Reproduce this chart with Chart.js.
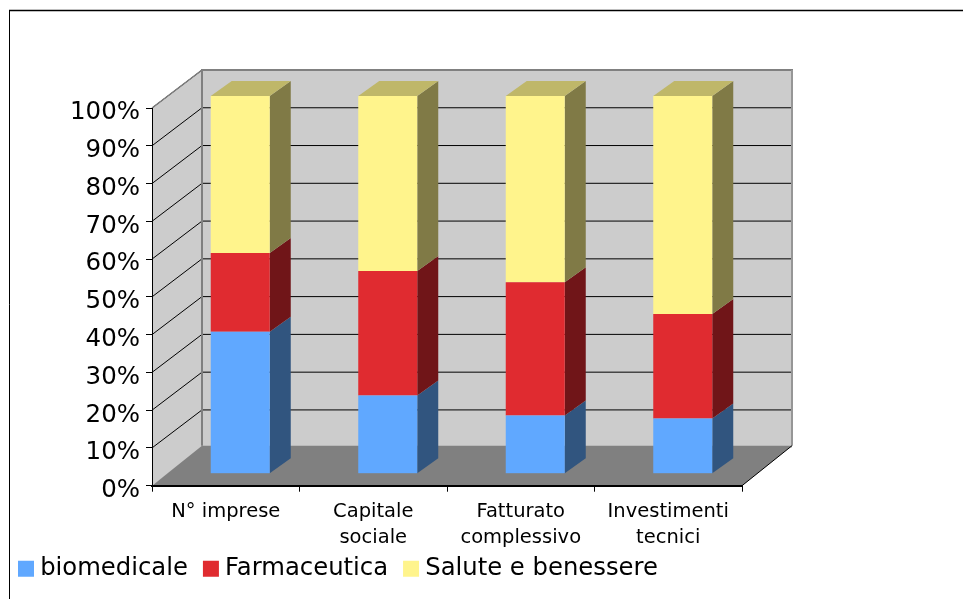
<!DOCTYPE html>
<html>
<head>
<meta charset="utf-8">
<title>Grafico</title>
<script src="https://cdn.jsdelivr.net/npm/chart.js@4"></script>
<style>
    html, body { margin: 0; padding: 0; background: #fff; overflow: hidden; }
    canvas { display: block; }
</style>
</head>
<body>
<canvas id="grafico" width="963" height="599"></canvas>
<script>
// Dati (percentuali)
const categorie = ["N° imprese", ["Capitale", "sociale"], ["Fatturato", "complessivo"], ["Investimenti", "tecnici"]];
const biomedicale = [37.6, 20.7, 15.4, 14.6];
const farmaceutica = [20.8, 33.0, 35.3, 27.7];
const salute = [41.6, 46.3, 49.3, 57.7];

// Effetto 3D: profondita' del box e della barra
const PROF_X = 50, PROF_Y = -38;
const BARRA_DX = 14.5, BARRA_DY = -12;
const LATO_X = 21, LATO_Y = -15;

// Colori facce laterali e superiore
const coloreLato = { biomedicale: "#31557F", Farmaceutica: "#701518", "Salute e benessere": "#807A46" };
const coloreTop = "#BFB769";

function poligono(ctx, punti, colore) {
    ctx.fillStyle = colore;
    ctx.beginPath();
    punti.forEach((p, i) => i ? ctx.lineTo(p[0], p[1]) : ctx.moveTo(p[0], p[1]));
    ctx.closePath();
    ctx.fill();
}

function linea(ctx, x1, y1, x2, y2, colore, spessore) {
    ctx.strokeStyle = colore;
    ctx.lineWidth = spessore;
    ctx.beginPath();
    ctx.moveTo(x1, y1);
    ctx.lineTo(x2, y2);
    ctx.stroke();
}

// Pareti, pavimento, griglia e cornice
const scatola3d = {
    id: "scatola3d",
    afterLayout(chart) {
        // le etichette su due righe finiscono sopra la legenda: non tagliarle
        chart.scales.x.bottom = chart.scales.x.top + 70;
    },
    beforeDraw(chart) {
        const ctx = chart.ctx;
        const { left, right, top, bottom } = chart.chartArea;
        const bx = left + PROF_X, by = bottom + PROF_Y;
        const tx = top + PROF_Y;
        ctx.save();

        linea(ctx, 9.5, 599, 9.5, 10.5, "#000", 1);
        linea(ctx, 9, 10.5, 963, 10.5, "#000", 1.5);

        // parete di fondo e laterale
        poligono(ctx, [[bx, tx], [right + PROF_X, tx], [right + PROF_X, by], [bx, by]], "#CCCCCC");
        poligono(ctx, [[left, top], [bx, tx], [bx, by], [left, bottom]], "#CCCCCC");

        // griglia
        chart.scales.y.ticks.forEach(t => {
            const y = chart.scales.y.getPixelForValue(t.value);
            if (t.value > 0) linea(ctx, left, y, bx, y + PROF_Y, "#000", 1);
            if (t.value > 0 && t.value < 100) linea(ctx, bx, y + PROF_Y, right + PROF_X, y + PROF_Y, "#000", 1);
        });

        // pavimento
        poligono(ctx, [[left, bottom], [bx, by - 2], [right + PROF_X, by - 2], [right, bottom]], "#808080");

        // bordi
        linea(ctx, left, top, bx, tx, "#808080", 1.5);
        linea(ctx, bx - 1, tx, right + PROF_X + 1, tx, "#808080", 2);
        linea(ctx, bx, tx, bx, by - 2, "#808080", 2);
        linea(ctx, right + PROF_X, tx, right + PROF_X, by - 2, "#969696", 2);
        linea(ctx, right, bottom, right + PROF_X, by - 2, "#000", 1);
        ctx.restore();
    },
    beforeDatasetsDraw(chart) {
        const ctx = chart.ctx;
        ctx.save();
        ctx.translate(BARRA_DX, BARRA_DY);
        chart.data.datasets.forEach((ds, d) => {
            chart.getDatasetMeta(d).data.forEach(b => {
                const dx = b.x + b.width / 2;
                poligono(ctx, [[dx, b.y], [dx + LATO_X, b.y + LATO_Y], [dx + LATO_X, b.base + LATO_Y], [dx, b.base]], coloreLato[ds.label]);
                if (d === chart.data.datasets.length - 1) {
                    const sx = b.x - b.width / 2;
                    poligono(ctx, [[sx, b.y], [sx + LATO_X, b.y + LATO_Y], [dx + LATO_X, b.y + LATO_Y], [dx, b.y]], coloreTop);
                }
            });
        });
    },
    afterDatasetsDraw(chart) {
        chart.ctx.restore();
    }
};

new Chart(document.getElementById("grafico").getContext("2d"), {
    type: "bar",
    data: {
        labels: categorie,
        datasets: [
            { label: "biomedicale", data: biomedicale, backgroundColor: "#60A8FF" },
            { label: "Farmaceutica", data: farmaceutica, backgroundColor: "#E02B30" },
            { label: "Salute e benessere", data: salute, backgroundColor: "#FFF48C" }
        ]
    },
    options: {
        responsive: false,
        animation: false,
        categoryPercentage: 1,
        barPercentage: 0.4,
        layout: { padding: { left: 3, right: 221, top: 108, bottom: 8 } },
        plugins: {
            tooltip: { enabled: false },
            legend: {
                position: "bottom",
                align: "start",
                labels: {
                    boxWidth: 4,
                    boxHeight: 4,
                    padding: 21,
                    color: "#000",
                    font: { family: "'DejaVu Sans'", size: 24.3 },
                    generateLabels(chart) {
                        return chart.data.datasets.map((ds, i) => ({
                            text: ds.label,
                            fillStyle: ds.backgroundColor,
                            strokeStyle: ds.backgroundColor,
                            lineWidth: 12,
                            datasetIndex: i
                        }));
                    }
                }
            }
        },
        scales: {
            x: {
                stacked: true,
                afterFit(scale) { scale.height = 50; },
                border: { color: "#000", width: 2 },
                grid: { drawOnChartArea: false, drawTicks: true, tickLength: 6, tickColor: "#000" },
                ticks: {
                    color: "#000",
                    maxRotation: 0,
                    padding: 7,
                    font: { family: "'DejaVu Sans'", size: 19.5, lineHeight: 1.33 }
                }
            },
            y: {
                stacked: true,
                min: 0,
                max: 100,
                afterFit(scale) { scale.width = 149; },
                border: { color: "#000", width: 1 },
                grid: { drawOnChartArea: false, drawTicks: true, tickLength: 6, tickColor: "#000" },
                ticks: {
                    stepSize: 10,
                    color: "#000",
                    padding: 6,
                    labelOffset: 5,
                    font: { family: "'DejaVu Sans'", size: 24.5 },
                    callback: v => v + "%"
                }
            }
        }
    },
    plugins: [scatola3d]
});
</script>
</body>
</html>
